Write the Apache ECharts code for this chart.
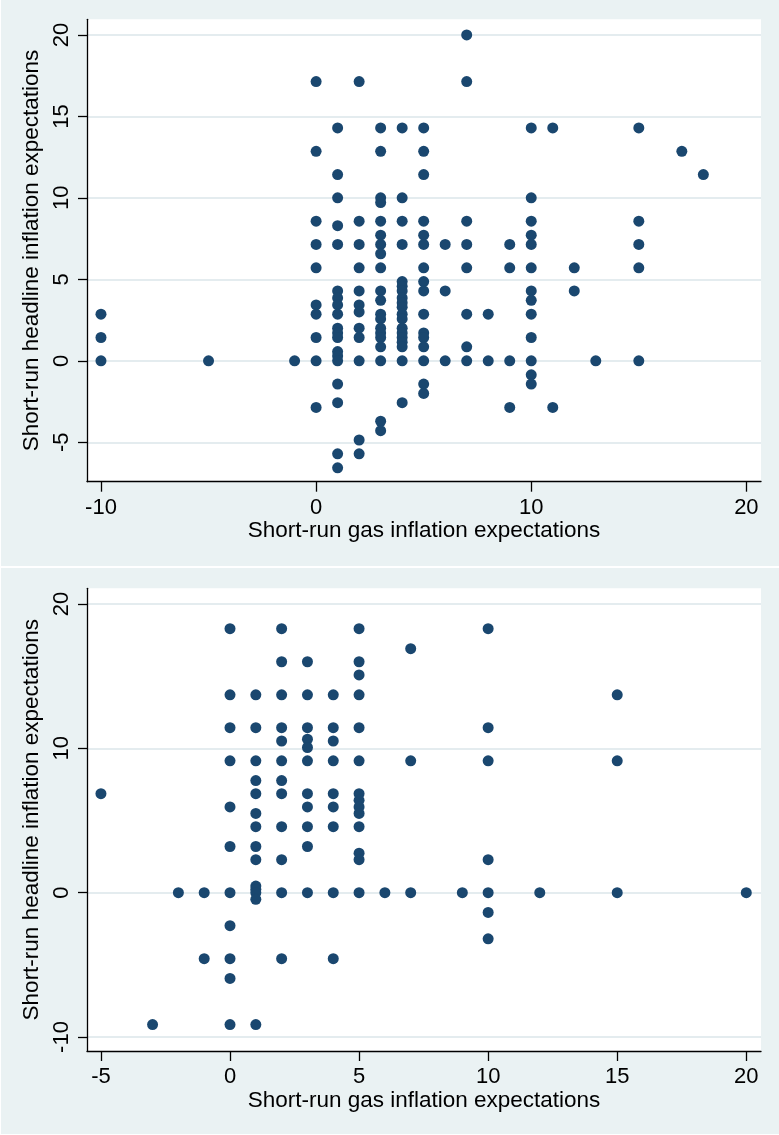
<!DOCTYPE html>
<html>
<head>
<meta charset="utf-8">
<script src="https://cdn.jsdelivr.net/npm/echarts@6/dist/echarts.min.js"></script>
<style>
html,body{margin:0;padding:0;background:#ffffff;}
#chart{width:779px;height:1135px;}
</style>
</head>
<body>
<div id="chart"></div>
<script>
// ---------- DATA ----------
// Top panel: gas inflation expectation values (x) and headline values (y) at each x
const topGas = [-10, -5, -1, 0, 1, 2, 3, 4, 5, 6, 7, 8, 9, 10, 11, 12, 13, 15, 17, 18];
const topHeadline = [
  [2.86, 1.43, 0],
  [0],
  [0],
  [17.14, 12.86, 8.57, 7.14, 5.71, 3.43, 2.86, 1.43, 0, -2.86],
  [14.29, 11.43, 10, 8.29, 7.14, 4.29, 3.86, 3.43, 2.86, 2.0, 1.71, 1.43, 0.57, 0.29, 0, -1.43, -2.57, -5.71, -6.57],
  [17.14, 8.57, 7.14, 5.71, 4.29, 3.43, 3.0, 2.0, 1.43, 0, -4.86, -5.71],
  [14.29, 12.86, 10, 9.71, 8.57, 7.71, 7.14, 6.57, 5.71, 4.29, 3.71, 2.86, 2.57, 2.0, 1.71, 1.43, 0.86, 0, -3.71, -4.29],
  [14.29, 10, 8.57, 7.14, 4.86, 4.57, 4.29, 3.86, 3.57, 3.29, 2.86, 2.57, 2.0, 1.71, 1.43, 1.14, 0.86, 0, -2.57],
  [14.29, 12.86, 11.43, 8.57, 7.71, 7.14, 5.71, 4.86, 4.29, 2.86, 1.71, 1.43, 0.86, 0, -1.43, -2.0],
  [7.14, 4.29, 0],
  [20, 17.14, 8.57, 7.14, 5.71, 2.86, 0.86, 0],
  [2.86, 0],
  [7.14, 5.71, 0, -2.86],
  [14.29, 10, 8.57, 7.71, 7.14, 5.71, 4.29, 3.71, 2.86, 1.43, 0, -0.86, -1.43],
  [14.29, -2.86],
  [5.71, 4.29],
  [0],
  [14.29, 8.57, 7.14, 5.71, 0],
  [12.86],
  [11.43]
];
// Bottom panel
const botGas = [-5, -3, -2, -1, 0, 1, 2, 3, 4, 5, 6, 7, 9, 10, 12, 15, 20];
const botHeadline = [
  [6.86],
  [-9.14],
  [0],
  [0, -4.57],
  [18.29, 13.71, 11.43, 9.14, 5.94, 3.2, 0, -2.29, -4.57, -5.94, -9.14],
  [13.71, 11.43, 9.14, 7.77, 6.86, 5.49, 4.57, 3.2, 2.29, 0.46, 0.23, 0, -0.46, -9.14],
  [18.29, 16, 13.71, 11.43, 10.51, 9.14, 7.77, 6.86, 4.57, 2.29, 0, -4.57],
  [16, 13.71, 11.43, 10.63, 10.06, 9.14, 6.86, 5.94, 4.57, 3.2, 0],
  [13.71, 11.43, 10.51, 9.14, 6.86, 5.94, 4.57, 0, -4.57],
  [18.29, 16, 15.09, 13.71, 11.43, 9.14, 6.86, 6.4, 5.94, 5.49, 4.57, 2.74, 2.29, 0],
  [0],
  [16.91, 9.14, 0],
  [0],
  [18.29, 11.43, 9.14, 2.29, 0, -1.37, -3.2],
  [0],
  [13.71, 9.14, 0],
  [0]
];
// Tick labels
const topXTicks = [-10, 0, 10, 20];
const topYTicks = [-5, 0, 5, 10, 15, 20];
const botXTicks = [-5, 0, 5, 10, 15, 20];
const botYTicks = [-10, 0, 10, 20];
const xTitle = 'Short-run gas inflation expectations';
const yTitle = 'Short-run headline inflation expectations';

// ---------- BUILD ----------
function pairs(xs, ys) {
  const out = [];
  xs.forEach((x, i) => ys[i].forEach(y => out.push([x, y])));
  return out;
}
const FONT = '"Liberation Sans", Arial, sans-serif';
const NAVY = '#1A476F';

function xAxisCfg(grid, min, max, ticks) {
  return {
    type: 'value', gridIndex: grid, min: min, max: max,
    name: xTitle, nameLocation: 'middle', nameGap: 37,
    nameTextStyle: {fontFamily: FONT, fontSize: 22.5, color: '#000'},
    axisLine: {show: true, onZero: false, lineStyle: {color: '#000', width: 1.3}},
    axisTick: {show: true, inside: false, length: 10, customValues: ticks, lineStyle: {color: '#000', width: 1.3}},
    axisLabel: {customValues: ticks, fontFamily: FONT, fontSize: 22, color: '#000', margin: 15},
    splitLine: {show: false}
  };
}
function yAxisCfg(grid, min, max, ticks) {
  return {
    type: 'value', gridIndex: grid, min: min, max: max,
    name: yTitle, nameLocation: 'middle', nameGap: 37,
    nameTextStyle: {fontFamily: FONT, fontSize: 22.5, color: '#000'},
    axisLine: {show: true, onZero: false, lineStyle: {color: '#000', width: 1.3}},
    axisTick: {show: true, inside: false, length: 9, customValues: ticks, lineStyle: {color: '#000', width: 1.3}},
    axisLabel: {customValues: ticks, rotate: 90, fontFamily: FONT, fontSize: 22, color: '#000', margin: 14},
    splitLine: {show: true, lineStyle: {color: '#E4ECEF', width: 2}}
  };
}

const chart = echarts.init(document.getElementById('chart'), null, {renderer: 'canvas'});
chart.setOption({
  animation: false,
  backgroundColor: '#ffffff',
  graphic: [
    {type: 'rect', left: 1, top: 0, shape: {width: 778, height: 566}, style: {fill: '#EAF2F3'}, z: -10, silent: true},
    {type: 'rect', left: 1, top: 568, shape: {width: 778, height: 566}, style: {fill: '#EAF2F3'}, z: -10, silent: true}
  ],
  grid: [
    {left: 87, top: 19.3, width: 674, height: 462.4, show: true, backgroundColor: '#ffffff', borderWidth: 0},
    {left: 87, top: 588.3, width: 674, height: 462.7, show: true, backgroundColor: '#ffffff', borderWidth: 0}
  ],
  xAxis: [
    xAxisCfg(0, -10.65, 20.68, topXTicks),
    xAxisCfg(1, -5.54, 20.57, botXTicks)
  ],
  yAxis: [
    yAxisCfg(0, -7.42, 20.96, topYTicks),
    yAxisCfg(1, -10.97, 21.09, botYTicks)
  ],
  series: [
    {type: 'scatter', xAxisIndex: 0, yAxisIndex: 0, data: pairs(topGas, topHeadline),
     symbol: 'circle', symbolSize: 11, itemStyle: {color: NAVY, opacity: 1}},
    {type: 'scatter', xAxisIndex: 1, yAxisIndex: 1, data: pairs(botGas, botHeadline),
     symbol: 'circle', symbolSize: 11, itemStyle: {color: NAVY, opacity: 1}}
  ]
});
</script>
</body>
</html>
